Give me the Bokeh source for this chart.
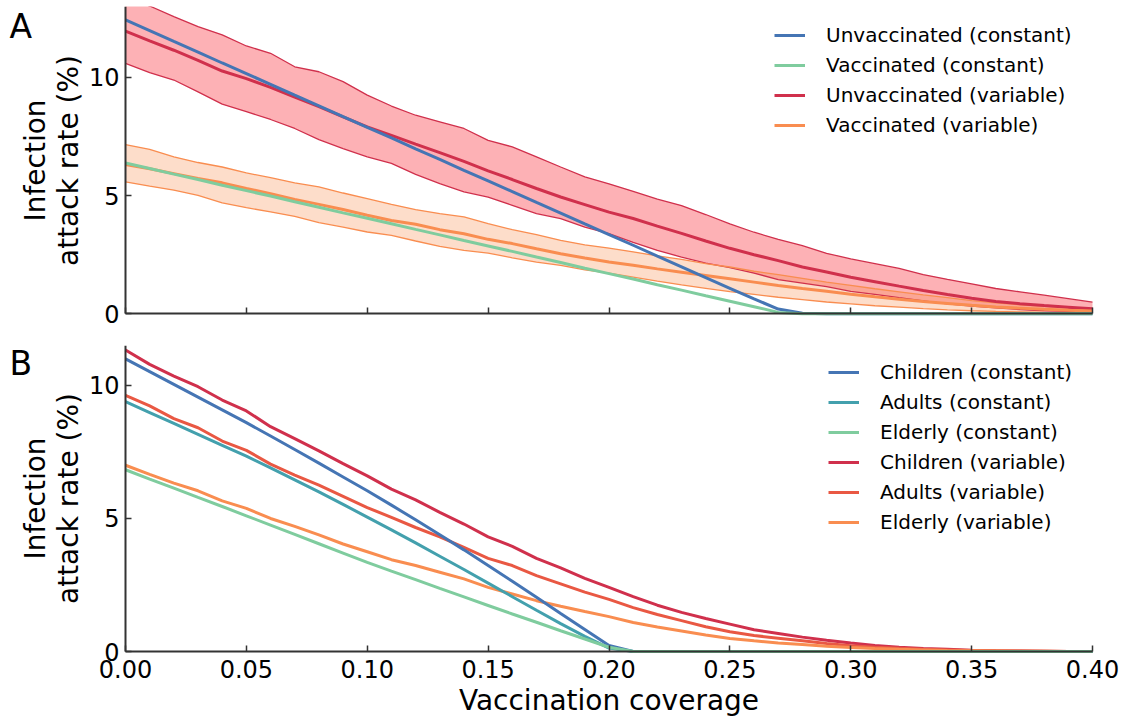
import math
from bokeh.plotting import figure
from bokeh.layouts import column
from bokeh.models import (Range1d, FixedTicker, NumeralTickFormatter, Legend,
                          LegendItem, Label)
from bokeh.embed import file_html
from bokeh.resources import INLINE

# ---------------- data ----------------
coverage = [0.00, 0.01, 0.02, 0.03, 0.04, 0.05, 0.06, 0.07, 0.08, 0.09,
            0.10, 0.11, 0.12, 0.13, 0.14, 0.15, 0.16, 0.17, 0.18, 0.19,
            0.20, 0.21, 0.22, 0.23, 0.24, 0.25, 0.26, 0.27, 0.28, 0.29,
            0.30, 0.31, 0.32, 0.33, 0.34, 0.35, 0.36, 0.37, 0.38, 0.39, 0.40]

# Panel A
unvacc_const = [12.43, 11.98, 11.52, 11.07, 10.61, 10.16, 9.71, 9.25, 8.80, 8.34,
                7.89, 7.44, 6.98, 6.53, 6.07, 5.62, 5.17, 4.71, 4.26, 3.80,
                3.35, 2.90, 2.44, 1.99, 1.53, 1.08, 0.63, 0.20, 0.02, 0.0,
                0.0, 0.0, 0.0, 0.0, 0.0, 0.0, 0.0, 0.0, 0.0, 0.0, 0.0]
vacc_const = [6.38, 6.15, 5.91, 5.68, 5.44, 5.21, 4.98, 4.74, 4.51, 4.27,
              4.04, 3.81, 3.57, 3.34, 3.10, 2.87, 2.64, 2.40, 2.17, 1.93,
              1.70, 1.47, 1.23, 1.00, 0.76, 0.53, 0.30, 0.06, 0.0, 0.0,
              0.0, 0.0, 0.0, 0.0, 0.0, 0.0, 0.0, 0.0, 0.0, 0.0, 0.0]
unvacc_var = [11.96, 11.55, 11.15, 10.72, 10.27, 9.95, 9.58, 9.17, 8.76, 8.33,
              7.91, 7.55, 7.18, 6.82, 6.45, 6.05, 5.68, 5.30, 4.94, 4.62,
              4.30, 4.03, 3.71, 3.40, 3.08, 2.77, 2.50, 2.25, 1.98, 1.77,
              1.55, 1.36, 1.17, 0.99, 0.82, 0.66, 0.52, 0.43, 0.35, 0.28, 0.21]
unvacc_var_hi = [13.40, 13.02, 12.57, 12.15, 11.80, 11.33, 11.02, 10.45, 10.24, 9.82,
                 9.25, 8.79, 8.40, 8.12, 7.84, 7.34, 7.06, 6.64, 6.21, 5.79,
                 5.50, 5.18, 4.85, 4.58, 4.20, 3.80, 3.45, 3.15, 2.88, 2.56,
                 2.32, 2.12, 1.92, 1.66, 1.46, 1.27, 1.07, 0.93, 0.79, 0.64, 0.49]
unvacc_var_lo = [10.59, 10.20, 9.89, 9.39, 8.87, 8.55, 8.22, 7.84, 7.37, 6.99,
                 6.64, 6.36, 5.90, 5.51, 5.16, 4.94, 4.59, 4.24, 4.03, 3.67,
                 3.39, 3.02, 2.68, 2.40, 2.14, 1.95, 1.72, 1.45, 1.30, 1.15,
                 0.95, 0.82, 0.68, 0.55, 0.42, 0.33, 0.25, 0.18, 0.13, 0.10, 0.08]
vacc_var = [6.31, 6.14, 5.93, 5.72, 5.54, 5.30, 5.08, 4.84, 4.63, 4.41,
            4.17, 3.95, 3.79, 3.56, 3.39, 3.15, 2.97, 2.75, 2.54, 2.36,
            2.19, 2.05, 1.90, 1.76, 1.62, 1.48, 1.34, 1.20, 1.07, 0.95,
            0.83, 0.72, 0.62, 0.52, 0.44, 0.36, 0.29, 0.24, 0.19, 0.15, 0.12]
vacc_var_hi = [7.16, 6.96, 6.64, 6.40, 6.21, 5.96, 5.76, 5.54, 5.37, 5.11,
               4.87, 4.63, 4.41, 4.24, 4.10, 3.81, 3.56, 3.35, 3.11, 2.92,
               2.78, 2.62, 2.45, 2.30, 2.12, 1.98, 1.80, 1.66, 1.50, 1.34,
               1.20, 1.06, 0.93, 0.80, 0.68, 0.56, 0.46, 0.38, 0.31, 0.25, 0.20]
vacc_var_lo = [5.58, 5.40, 5.23, 5.01, 4.69, 4.49, 4.31, 4.12, 3.86, 3.67,
               3.46, 3.32, 3.08, 2.85, 2.68, 2.57, 2.37, 2.19, 2.05, 1.86,
               1.72, 1.55, 1.38, 1.22, 1.08, 0.94, 0.82, 0.70, 0.60, 0.50,
               0.42, 0.34, 0.28, 0.22, 0.17, 0.13, 0.10, 0.08, 0.06, 0.05, 0.04]

# Panel B
children_const = [11.00, 10.52, 10.04, 9.56, 9.08, 8.60, 8.10, 7.59, 7.08, 6.56,
                  6.04, 5.50, 4.95, 4.39, 3.82, 3.23, 2.64, 2.04, 1.43, 0.83,
                  0.23, 0.0, 0.0, 0.0, 0.0, 0.0, 0.0, 0.0, 0.0, 0.0,
                  0.0, 0.0, 0.0, 0.0, 0.0, 0.0, 0.0, 0.0, 0.0, 0.0, 0.0]
adults_const = [9.39, 8.98, 8.57, 8.16, 7.75, 7.34, 6.90, 6.45, 6.00, 5.53,
                5.05, 4.57, 4.08, 3.58, 3.08, 2.57, 2.06, 1.55, 1.05, 0.57,
                0.13, 0.0, 0.0, 0.0, 0.0, 0.0, 0.0, 0.0, 0.0, 0.0,
                0.0, 0.0, 0.0, 0.0, 0.0, 0.0, 0.0, 0.0, 0.0, 0.0, 0.0]
elderly_const = [6.83, 6.48, 6.14, 5.79, 5.45, 5.10, 4.75, 4.40, 4.05, 3.70,
                 3.35, 3.02, 2.70, 2.37, 2.05, 1.73, 1.41, 1.10, 0.78, 0.47,
                 0.16, 0.0, 0.0, 0.0, 0.0, 0.0, 0.0, 0.0, 0.0, 0.0,
                 0.0, 0.0, 0.0, 0.0, 0.0, 0.0, 0.0, 0.0, 0.0, 0.0, 0.0]
children_var = [11.33, 10.79, 10.35, 9.95, 9.45, 9.04, 8.45, 8.00, 7.54, 7.06,
                6.60, 6.10, 5.70, 5.23, 4.79, 4.31, 3.95, 3.50, 3.14, 2.75,
                2.41, 2.06, 1.74, 1.47, 1.24, 1.03, 0.82, 0.68, 0.54, 0.42,
                0.32, 0.23, 0.16, 0.11, 0.08, 0.05, 0.03, 0.02, 0.01, 0.0, 0.0]
adults_var = [9.63, 9.23, 8.75, 8.41, 7.91, 7.56, 7.04, 6.63, 6.25, 5.83,
              5.41, 5.04, 4.66, 4.31, 3.91, 3.50, 3.23, 2.85, 2.54, 2.23,
              1.96, 1.65, 1.39, 1.16, 0.93, 0.74, 0.60, 0.50, 0.40, 0.30,
              0.22, 0.16, 0.12, 0.08, 0.06, 0.04, 0.03, 0.02, 0.01, 0.0, 0.0]
elderly_var = [7.00, 6.66, 6.33, 6.04, 5.66, 5.38, 5.00, 4.70, 4.38, 4.04,
               3.75, 3.45, 3.23, 2.98, 2.73, 2.41, 2.16, 1.91, 1.70, 1.50,
               1.31, 1.09, 0.92, 0.77, 0.62, 0.49, 0.40, 0.32, 0.26, 0.20,
               0.15, 0.11, 0.08, 0.06, 0.04, 0.03, 0.02, 0.01, 0.01, 0.0, 0.0]

x_ticks = [0.0, 0.05, 0.10, 0.15, 0.20, 0.25, 0.30, 0.35, 0.40]
y_ticks = [0, 5, 10]
labels_a = ["Unvaccinated (constant)", "Vaccinated (constant)",
            "Unvaccinated (variable)", "Vaccinated (variable)"]
labels_b = ["Children (constant)", "Adults (constant)", "Elderly (constant)",
            "Children (variable)", "Adults (variable)", "Elderly (variable)"]
x_title = "Vaccination coverage"
y_title = ["Infection", "attack rate (%)"]

# ---------------- style / layout (pixels) ----------------
FONT = "DejaVu Sans"
BLUE = "#4575b4"
GREEN = "#7fcc9e"
TEAL = "#43a0ad"
RED = "#d0304c"
REDOR = "#e95843"
ORANGE = "#f98d50"
AXC = "#333333"

W = 1127
AX_LEFT, AX_RIGHT = 125, 1092          # pixel position of x = 0 and x = 0.4
XPX = (AX_RIGHT - AX_LEFT) / 0.4       # pixels per x unit
X_START = -AX_LEFT / XPX               # frame spans the whole canvas width
X_END = 0.4 + (W - AX_RIGHT) / XPX

# panel A: canvas 330 high, frame from y=6 to y=330, axis y=0 at 313.3
A_H, A_TOP, A_ZERO, A_MAX = 330, 6, 313.3, 13.0
A_PX = (A_ZERO - A_TOP) / A_MAX
A_START = -(A_H - A_ZERO) / A_PX
# panel B: canvas 387 high, frame from 345 to 717 (global), axis y=0 at 651
B_H, B_TOP, B_ZERO, B_MAX = 387, 15, 321.0, 11.5
B_PX = (B_ZERO - B_TOP) / B_MAX
B_START = -(B_H - B_ZERO) / B_PX


def xd(px):
    return (px - AX_LEFT) / XPX


def style(p, ymax):
    p.outline_line_color = None
    p.xgrid.visible = False
    p.ygrid.visible = False
    p.background_fill_color = "white"
    p.border_fill_color = "white"
    for ax in (p.xaxis[0], p.yaxis[0]):
        ax.axis_line_color = AXC
        ax.axis_line_width = 2
        ax.major_tick_line_color = AXC
        ax.major_tick_line_width = 1.5
        ax.major_tick_in = 6
        ax.major_tick_out = 0
        ax.minor_tick_line_color = None
        ax.major_label_text_font = FONT
        ax.major_label_text_font_size = "24px"
        ax.major_label_text_color = "black"
        ax.fixed_location = 0
    p.xaxis.ticker = FixedTicker(ticks=x_ticks)
    p.xaxis.formatter = NumeralTickFormatter(format="0.00")
    p.xaxis.bounds = (0, 0.4)
    p.xaxis.major_label_standoff = 8
    p.yaxis.ticker = FixedTicker(ticks=y_ticks)
    p.yaxis.bounds = (0, ymax)
    p.yaxis.major_label_standoff = 6


def text_label(text, x, y, size, angle=0.0, align="left"):
    return Label(x=x, y=y, text=text, text_font=FONT, text_font_size=size,
                 text_color="black", text_baseline="middle", text_align=align,
                 angle=angle)


def add_y_title(p, ymid):
    p.add_layout(text_label(y_title[0], xd(34.5), ymid, "28px",
                            angle=math.pi / 2, align="center"))
    p.add_layout(text_label(y_title[1], xd(67.5), ymid, "28px",
                            angle=math.pi / 2, align="center"))


def legend(items, loc):
    return Legend(items=items, location=loc, border_line_color=None,
                  background_fill_alpha=0, label_text_font=FONT,
                  label_text_font_size="20px", label_text_color="black",
                  glyph_width=31, glyph_height=30, label_height=30,
                  spacing=0, padding=0, margin=0, label_standoff=21)


# ---------------- panel A ----------------
pa = figure(width=W, height=A_H, output_backend="svg", toolbar_location=None,
            x_range=Range1d(X_START, X_END), y_range=Range1d(A_START, A_MAX),
            min_border_left=0, min_border_right=0,
            min_border_top=A_TOP, min_border_bottom=0)
style(pa, A_MAX)
pa.xaxis.major_label_overrides = {t: "" for t in x_ticks}

pa.varea(x=coverage, y1=unvacc_var_lo, y2=unvacc_var_hi,
         fill_color="#fa3c46", fill_alpha=0.4)
pa.varea(x=coverage, y1=vacc_var_lo, y2=vacc_var_hi,
         fill_color=ORANGE, fill_alpha=0.3)
pa.line(coverage, unvacc_var_hi, line_color=RED, line_width=1.3)
pa.line(coverage, unvacc_var_lo, line_color=RED, line_width=1.3)
pa.line(coverage, vacc_var_hi, line_color=ORANGE, line_width=1.3)
pa.line(coverage, vacc_var_lo, line_color=ORANGE, line_width=1.3)
ra3 = pa.line(coverage, unvacc_var, line_color=RED, line_width=3)
ra4 = pa.line(coverage, vacc_var, line_color=ORANGE, line_width=3)
ra1 = pa.line(coverage, unvacc_const, line_color=BLUE, line_width=3)
ra2 = pa.line(coverage, vacc_const, line_color=GREEN, line_width=3)

# legend location: bottom-left corner in frame pixels
pa.add_layout(legend([LegendItem(label=labels_a[0], renderers=[ra1]),
                      LegendItem(label=labels_a[1], renderers=[ra2]),
                      LegendItem(label=labels_a[2], renderers=[ra3]),
                      LegendItem(label=labels_a[3], renderers=[ra4])],
                     (774, 190)))
pa.add_layout(text_label("A", xd(9), (A_ZERO - 25.6) / A_PX, "33px"))
add_y_title(pa, (A_ZERO - 160) / A_PX)

# ---------------- panel B ----------------
pb = figure(width=W, height=B_H, output_backend="svg", toolbar_location=None,
            x_range=Range1d(X_START, X_END), y_range=Range1d(B_START, B_MAX),
            min_border_left=0, min_border_right=0,
            min_border_top=B_TOP, min_border_bottom=0)
style(pb, B_MAX)

rb4 = pb.line(coverage, children_var, line_color=RED, line_width=3)
rb5 = pb.line(coverage, adults_var, line_color=REDOR, line_width=3)
rb6 = pb.line(coverage, elderly_var, line_color=ORANGE, line_width=3)
rb1 = pb.line(coverage, children_const, line_color=BLUE, line_width=3)
rb2 = pb.line(coverage, adults_const, line_color=TEAL, line_width=3)
rb3 = pb.line(coverage, elderly_const, line_color=GREEN, line_width=3)

pb.add_layout(legend([LegendItem(label=labels_b[0], renderers=[rb1]),
                      LegendItem(label=labels_b[1], renderers=[rb2]),
                      LegendItem(label=labels_b[2], renderers=[rb3]),
                      LegendItem(label=labels_b[3], renderers=[rb4]),
                      LegendItem(label=labels_b[4], renderers=[rb5]),
                      LegendItem(label=labels_b[5], renderers=[rb6])],
                     (828, 180)))
pb.add_layout(text_label("B", xd(9), (B_ZERO - 32.6) / B_PX, "33px"))
add_y_title(pb, (B_ZERO - 168) / B_PX)
pb.add_layout(text_label(x_title, 0.2, (B_ZERO - 370) / B_PX, "28px",
                         align="center"))

layout = column(pa, pb, spacing=0)
open("out.html", "w").write(file_html(layout, INLINE))
